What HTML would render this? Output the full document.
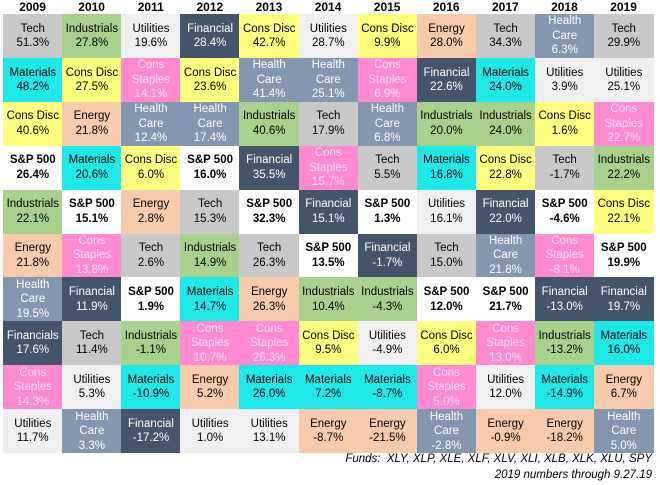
<!DOCTYPE html>
<html><head><meta charset="utf-8"><style>
body{margin:0;width:660px;height:485px;background:#fff;font-family:"Liberation Sans",sans-serif;position:relative;overflow:hidden}
.h{position:absolute;top:0;height:14px;font-weight:bold;font-size:12px;text-align:center;line-height:14px}
.c{position:absolute;display:flex;flex-direction:column;justify-content:center;align-items:center;text-align:center;font-size:11.5px;line-height:14.5px;box-sizing:border-box}
.f{position:absolute;right:8px;font-style:italic;font-size:11.5px}
</style></head><body>
<div class="f" style="top:453px">Funds:&nbsp; XLY, XLP, XLE, XLF, XLV, XLI, XLB, XLK, XLU, SPY</div>
<div class="f" style="top:469px">2019 numbers through 9.27.19</div>
<script>
const years=["2009","2010","2011","2012","2013","2014","2015","2016","2017","2018","2019"];
const sectors=[
["Tech","Materials","Cons Disc","S&P 500","Industrials","Energy","Health Care","Financials","Cons Staples","Utilities"],
["Industrials","Cons Disc","Energy","Materials","S&P 500","Cons Staples","Financial","Tech","Utilities","Health Care"],
["Utilities","Cons Staples","Health Care","Cons Disc","Energy","Tech","S&P 500","Industrials","Materials","Financial"],
["Financial","Cons Disc","Health Care","S&P 500","Tech","Industrials","Materials","Cons Staples","Energy","Utilities"],
["Cons Disc","Health Care","Industrials","Financial","S&P 500","Tech","Energy","Cons Staples","Materials","Utilities"],
["Utilities","Health Care","Tech","Cons Staples","Financial","S&P 500","Industrials","Cons Disc","Materials","Energy"],
["Cons Disc","Cons Staples","Health Care","Tech","S&P 500","Financial","Industrials","Utilities","Materials","Energy"],
["Energy","Financial","Industrials","Materials","Utilities","Tech","S&P 500","Cons Disc","Cons Staples","Health Care"],
["Tech","Materials","Industrials","Cons Disc","Financial","Health Care","S&P 500","Cons Staples","Utilities","Energy"],
["Health Care","Utilities","Cons Disc","Tech","S&P 500","Cons Staples","Financial","Industrials","Materials","Energy"],
["Tech","Utilities","Cons Staples","Industrials","Cons Disc","S&P 500","Financial","Materials","Energy","Health Care"]];
const returns=[
[51.3,48.2,40.6,26.4,22.1,21.8,19.5,17.6,14.3,11.7],
[27.8,27.5,21.8,20.6,15.1,13.8,11.9,11.4,5.3,3.3],
[19.6,14.1,12.4,6.0,2.8,2.6,1.9,-1.1,-10.9,-17.2],
[28.4,23.6,17.4,16.0,15.3,14.9,14.7,10.7,5.2,1.0],
[42.7,41.4,40.6,35.5,32.3,26.3,26.3,26.3,26.0,13.1],
[28.7,25.1,17.9,15.7,15.1,13.5,10.4,9.5,7.2,-8.7],
[9.9,6.9,6.8,5.5,1.3,-1.7,-4.3,-4.9,-8.7,-21.5],
[28.0,22.6,20.0,16.8,16.1,15.0,12.0,6.0,5.0,-2.8],
[34.3,24.0,24.0,22.8,22.0,21.8,21.7,13.0,12.0,-0.9],
[6.3,3.9,1.6,-1.7,-4.6,-8.1,-13.0,-13.2,-14.9,-18.2],
[29.9,25.1,22.7,22.2,22.1,19.9,19.7,16.0,6.7,5.0]];
const style={"Tech":["#c9c9c9","#000"],"Industrials":["#a9d18e","#000"],"Utilities":["#f0f0f0","#000"],"Financial":["#44546a","#fff"],"Financials":["#44546a","#fff"],"Materials":["#1ee8e8","#000"],"Cons Disc":["#ffff80","#000"],"Cons Staples":["#ff8ad0","#ffe0f2"],"Health Care":["#8497b0","#fff"],"Energy":["#f8cbad","#000"],"S&P 500":["#ffffff","#000"]};
const X0=3,CW=59.1,Y0=14,RH=43.9;
years.forEach((y,i)=>{const d=document.createElement('div');d.className='h';


d.style.left=(X0+i*CW)+'px';d.style.width=CW+'px';d.textContent=y;document.body.appendChild(d);
sectors[i].forEach((s,j)=>{const c=document.createElement('div');c.className='c';


const st=style[s];c.style.left=(X0+i*CW)+'px';c.style.top=(Y0+j*RH)+'px';c.style.width=(CW+0.5)+'px';c.style.height=(RH+0.5)+'px';
c.style.background=st[0];c.style.color=st[1];
if(s==='S&P 500')c.style.fontWeight='bold';
const lbl=(s==='Cons Staples')?'Cons<br>Staples':(s==='Health Care'?'Health<br>Care':s);
c.innerHTML='<div>'+lbl+'</div><div>'+returns[i][j].toFixed(1)+'%</div>';
document.body.appendChild(c);});});
</script>
</body></html>
